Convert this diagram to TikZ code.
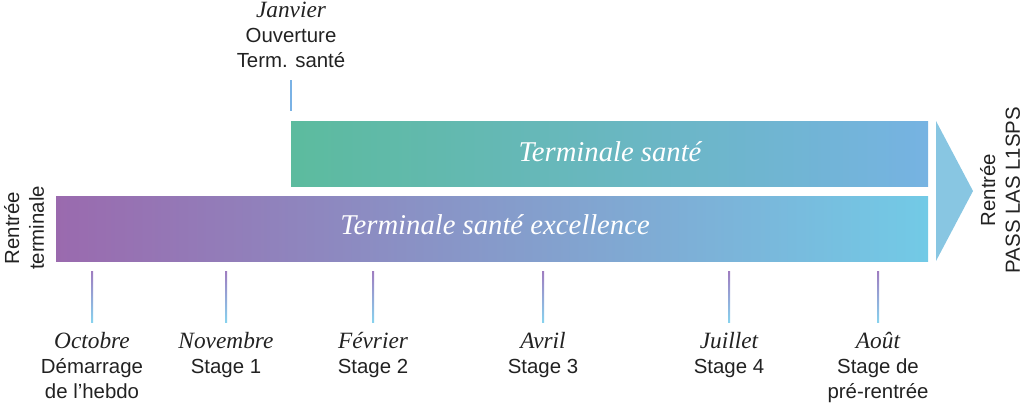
\documentclass[tikz,border=0pt]{standalone}
\usepackage{fontspec}
\setmainfont{Liberation Sans}
\newfontfamily\serifit{Liberation Serif}
\newcommand{\mois}{\fontsize{17.5}{18.4}\selectfont\serifit\itshape}
\definecolor{texte}{HTML}{222222}
\definecolor{vertA}{HTML}{5CBB9E}
\definecolor{bleuA}{HTML}{76B3E2}
\definecolor{violetB}{HTML}{9A6AAE}
\definecolor{bleuB}{HTML}{72CAE6}
\definecolor{fleche}{HTML}{88C6E2}
\definecolor{trait}{HTML}{9F7CC0}
\definecolor{traitbas}{HTML}{88D2EE}

\tikzset{
  etape/.style={align=center, inner sep=0pt, text=texte,
    font=\fontsize{15.3}{18.6}\selectfont},
  barretexte/.style={text=white, inner sep=0pt,
    font=\fontsize{21.5}{24}\selectfont\serifit\itshape},
}

\begin{document}
\begin{tikzpicture}[x=0.75pt, y=-0.75pt]
  \useasboundingbox (0,0) rectangle (1024,404);
  % Bars
  \coordinate (ts1) at (291,121);
  \coordinate (ts2) at (928,186);
  \coordinate (tx1) at (56,196);
  \coordinate (tx2) at (928,261);
  \shade[left color=vertA, right color=bleuA] (ts1) rectangle (ts2);
  \shade[left color=violetB, right color=bleuB] (tx1) rectangle (tx2);
  \node[barretexte] (sante) at (610,152) {Terminale santé};
  \node[barretexte] (excellence) at (495,225) {Terminale santé excellence};

  % Arrow
  \coordinate (f1) at (936,121);
  \coordinate (f2) at (973,191);
  \coordinate (f3) at (936,261);
  \fill[fleche] (f1) -- (f2) -- (f3) -- cycle;

  % Side labels
  \node[etape, rotate=90] (rentree) at (24,228) {Rentrée\\terminale};
  \node[etape, rotate=90] (pass) at (1000,190) {Rentrée\\PASS LAS L1SPS};

  % Janvier
  \coordinate (j1) at (291,80);
  \coordinate (j2) at (291,111);
  \draw[fleche!90!blue, line width=1.5pt] (j1) -- (j2);
  \node[etape, anchor=base] (janvier) at (291,67)
    {{\mois Janvier}\\Ouverture\\Term. santé};

  % Months below (\b = last baseline)
  \foreach \x/\b/\n/\t in {92/398/oct/{{\mois Octobre}\\Démarrage\\de l’hebdo},
      226/373/nov/{{\mois Novembre}\\Stage 1},
      373/373/fev/{{\mois Février}\\Stage 2},
      543/373/avr/{{\mois Avril}\\Stage 3},
      729/373/jui/{{\mois Juillet}\\Stage 4},
      878/398/aou/{{\mois Août}\\Stage de\\pré-rentrée}} {
    \coordinate (\n1) at (\x-1,271);
    \coordinate (\n2) at (\x+1,322);
    \shade[top color=trait, bottom color=traitbas] (\n1) rectangle (\n2);
    \node[etape, anchor=base] (\n) at (\x,\b) {\t};
  }
\end{tikzpicture}
\end{document}
